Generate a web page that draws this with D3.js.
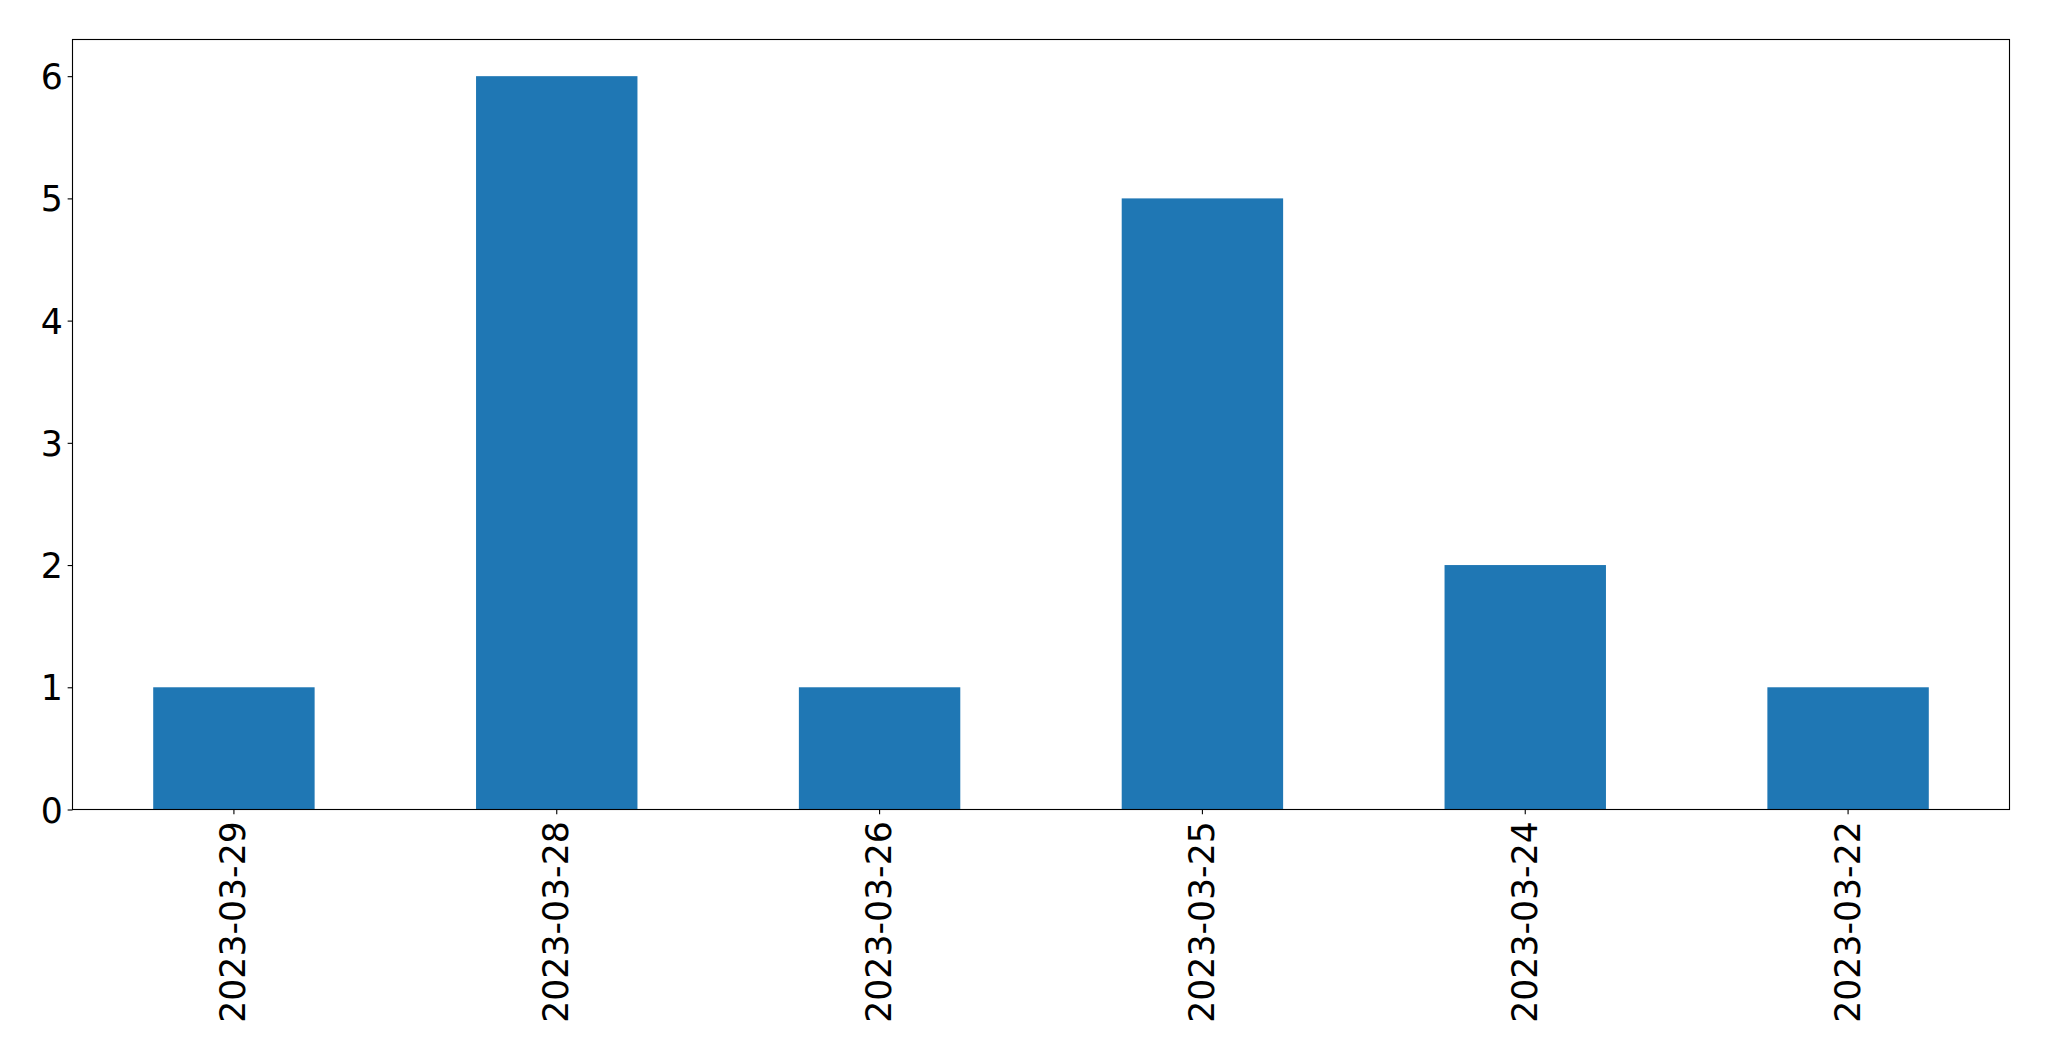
<!DOCTYPE html>
<html>
<head>
<meta charset="utf-8">
<script src="https://cdn.jsdelivr.net/npm/d3@7"></script>
<style>
  html, body { margin: 0; padding: 0; background: #fff; }
  svg { display: block; }
  text { font-family: "DejaVu Sans", sans-serif; }
</style>
</head>
<body>
<svg id="chart" width="2049" height="1061"></svg>
<script>
const categories = ["2023-03-29", "2023-03-28", "2023-03-26", "2023-03-25", "2023-03-24", "2023-03-22"];
const values = [1, 6, 1, 5, 2, 1];
const yTicks = [0, 1, 2, 3, 4, 5, 6];

const W = 2049, H = 1061;
const margin = { left: 72.5, right: W - 2009.5, top: 39.5, bottom: H - 809.5 };
const iw = W - margin.left - margin.right;
const ih = H - margin.top - margin.bottom;
const fontSize = 34.7;
const tickLen = 4.86, tickPad = 4.86;

const svg = d3.select("#chart");
const g = svg.append("g").attr("transform", `translate(${margin.left},${margin.top})`);

const x = d3.scaleBand().domain(categories).range([0, iw]).paddingInner(0.5).paddingOuter(0.25);
const y = d3.scaleLinear().domain([0, 6.3]).range([ih, 0]);

g.selectAll("rect.bar").data(values).enter().append("rect")
  .attr("class", "bar")
  .attr("x", (d, i) => x(categories[i]))
  .attr("width", x.bandwidth())
  .attr("y", d => y(d))
  .attr("height", d => y(0) - y(d))
  .attr("fill", "#1f77b4");

// Y axis
const yAxis = d3.axisLeft(y).tickValues(yTicks).tickFormat(d3.format("d"))
  .tickSize(tickLen).tickPadding(tickPad);
const yg = g.append("g").call(yAxis);
yg.select(".domain").remove();
yg.selectAll("line").attr("stroke", "#000").attr("stroke-width", 1.11);
yg.selectAll("text").attr("font-size", fontSize).attr("fill", "#000")
  .attr("font-family", "DejaVu Sans").attr("dy", "0.36em");

// X axis
const xAxis = d3.axisBottom(x).tickSize(tickLen).tickPadding(tickPad);
const xg = g.append("g").attr("transform", `translate(0,${ih})`).call(xAxis);
xg.select(".domain").remove();
xg.selectAll("line").attr("stroke", "#000").attr("stroke-width", 1.11);
xg.selectAll("text")
  .attr("font-size", fontSize).attr("fill", "#000").attr("font-family", "DejaVu Sans")
  .attr("text-anchor", "end")
  .attr("y", 0).attr("x", 0).attr("dy", "0.33em")
  .attr("transform", `translate(0,${tickLen + tickPad + 2}) rotate(-90)`);

// Frame
g.append("rect").attr("x", 0).attr("y", 0).attr("width", iw).attr("height", ih)
  .attr("fill", "none").attr("stroke", "#000").attr("stroke-width", 1.11);
</script>
</body>
</html>
